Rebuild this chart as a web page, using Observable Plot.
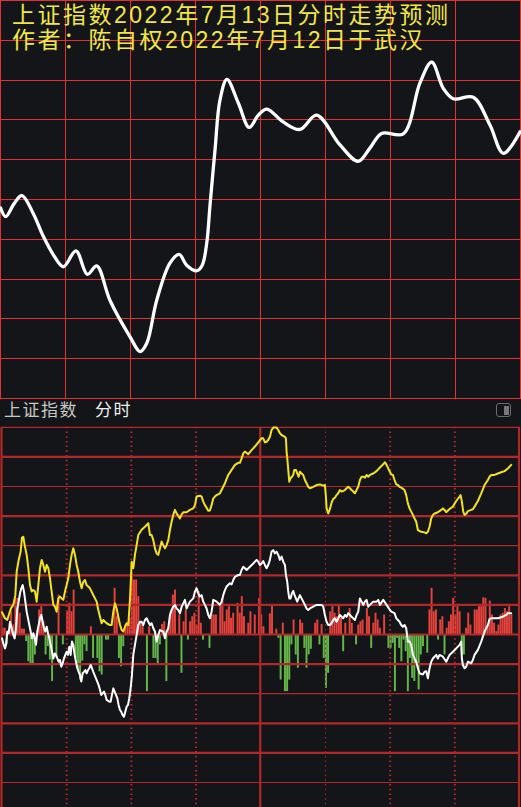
<!DOCTYPE html>
<html><head><meta charset="utf-8">
<script src="https://cdn.jsdelivr.net/npm/d3@7"></script>
<script src="https://cdn.jsdelivr.net/npm/@observablehq/plot@0.6"></script>
<style>
html,body{margin:0;padding:0;background:#141518;}
body{width:521px;height:807px;position:relative;overflow:hidden;}
#top,#bottom{position:absolute;left:0;}
#top{top:0}
#bottom{top:399px}
.title{position:absolute;left:12px;color:#f2e646;font-family:"Liberation Sans","Noto Sans CJK SC";font-size:23px;letter-spacing:2.5px;line-height:25px;white-space:nowrap}
.hdr{position:absolute;top:399px;font-family:"Noto Sans CJK SC";font-size:17px;line-height:20px;letter-spacing:1.5px;white-space:nowrap}
.icon{position:absolute;left:496px;top:403px;width:13px;height:12px;border:1.5px solid #6c6c6c;border-radius:3px}
.icon div{position:absolute;right:1.5px;top:1.5px;bottom:1.5px;width:5px;background:#777}
</style></head>
<body>
<div id="top"></div>
<div id="bottom"></div>
<div class="title" style="top:3px">上证指数2022年7月13日分时走势预测</div>
<div class="title" style="top:28px">作者：陈自权2022年7月12日于武汉</div>
<div class="hdr" style="left:4px;color:#c4c8c4">上证指数</div>
<div class="hdr" style="left:95px;color:#eceef2">分时</div>
<div class="icon"><div></div></div>
<script>
// ---------- top panel: forecast curve (minutes from open, grid units) ----------
const forecastMinute = [0,2.4,6.2,9.9,15.1,19.8,24.4,29.0,34.8,40.1,44.4,50.5,59.8,64.4,67.5,72.1,78.2,82.5,85.9,90.6,93.1,95.2,96.7,99.0,101.3,104.5,109.8,114.8,119.0,122.9,130.4,138.2,145.9,156.7,165.1,170.5,175.9,185.9,193.6,199.0,204.4,209.0,218.2,225.9,232.1,239.8];
const forecastValue  = [4.79,4.57,4.89,5.10,4.65,4.07,3.61,3.31,3.71,3.12,3.33,2.47,1.55,1.18,1.39,2.47,3.40,3.62,3.35,3.21,3.35,3.91,4.86,6.24,7.50,8.02,7.42,6.81,7.12,7.27,6.95,6.76,7.12,6.37,5.96,6.29,6.66,6.65,7.93,8.45,7.79,7.53,7.57,6.87,6.16,6.70];
const topGridMinutes = [0,30,60,90,120,150,180,210,240];
const topGridRows = [0,1,2,3,4,5,6,7,8,9,10];

// ---------- bottom panel: actual intraday ----------
const yellowMinute = [0,1.39,2.47,3.40,4.33,5.25,6.18,6.80,7.73,8.65,9.27,9.89,10.51,11.44,12.21,12.98,13.75,14.53,15.30,16.07,16.84,17.62,18.39,19.16,19.94,20.71,21.48,22.25,23.03,23.80,24.57,25.34,26.12,26.89,27.66,28.44,29.21,29.98,30.75,31.53,32.30,33.07,33.84,34.62,35.39,36.16,36.93,37.71,38.48,39.25,40.80,42.34,43.89,44.66,45.43,46.21,46.98,48.52,50.07,50.84,51.62,52.39,53.16,53.93,54.71,55.48,56.25,57.03,57.80,58.57,59.34,59.80,60.12,60.89,61.66,62.43,63.21,64.75,66.30,67.85,68.62,69.39,70.16,70.93,71.71,72.48,73.25,74.03,74.80,75.57,76.34,77.12,77.89,78.66,79.43,80.21,80.98,81.75,82.53,83.30,84.07,85.61,87.16,88.70,89.48,90.25,91.79,92.57,93.34,94.11,94.89,95.66,96.43,97.20,97.98,98.75,99.52,101.07,101.84,103.39,104.93,106.48,108.02,109.57,110.34,111.12,111.89,112.66,114.21,115.75,117.30,118.84,120.39,121.16,121.93,122.71,123.48,124.25,125.03,125.80,127.34,128.12,128.89,129.66,131.21,131.67,131.98,132.44,133.22,133.83,134.45,135.07,135.53,136.30,136.92,137.54,138.16,138.93,139.70,140.48,141.25,142.02,142.80,144.34,145.89,147.43,148.98,149.75,150.22,150.53,151.30,151.76,152.38,153.00,153.62,154.39,155.16,155.94,156.71,157.48,158.26,159.03,159.80,160.58,161.35,162.12,162.89,163.67,164.44,165.21,165.99,166.76,167.53,168.31,169.08,169.85,170.62,172.17,173.72,175.26,176.81,177.58,178.35,179.13,179.90,180.51,181.28,182.05,182.83,183.60,184.37,185.14,186.69,187.46,188.24,189.01,189.78,190.55,191.33,192.10,192.87,194.42,195.97,196.74,197.51,198.29,199.06,199.83,200.61,202.15,203.70,204.47,205.24,206.02,207.56,209.11,210.65,212.20,212.66,213.28,213.90,214.52,215.44,216.06,217.61,218.38,219.15,220.70,222.25,223.79,225.34,226.11,226.88,228.43,229.97,231.52,233.07,234.61,236.16];
const yellowValue  = [0.75,0.55,0.49,0.72,0.91,1.00,1.33,2.12,2.52,2.80,3.27,3.30,3.02,2.69,2.24,1.67,1.45,1.50,1.45,1.11,1.67,2.24,2.52,2.35,2.12,2.35,2.24,1.90,1.45,1.00,0.94,0.77,1.22,1.28,1.22,1.17,1.45,1.67,1.90,2.35,2.69,2.91,2.69,2.35,2.12,1.78,1.56,1.78,1.84,1.67,1.56,1.33,1.11,0.83,0.60,0.38,0.49,0.38,0.32,0.32,0.77,1.05,0.88,0.60,0.34,0.15,0.10,0.26,0.38,0.32,1.17,1.90,2.46,2.24,2.69,3.02,3.36,3.54,3.64,3.76,3.36,3.36,3.19,2.91,2.74,2.69,2.91,3.14,3.02,2.91,3.02,3.19,3.53,3.81,4.04,4.21,4.09,4.01,3.92,4.06,4.13,4.13,4.21,4.26,4.37,4.66,4.69,4.66,4.49,4.37,4.28,4.18,4.19,4.37,4.60,4.66,4.71,4.77,4.88,5.11,5.39,5.56,5.73,5.80,5.80,5.95,6.12,6.18,6.09,6.23,6.35,6.49,6.63,6.63,6.49,6.51,6.57,6.68,6.91,6.99,6.99,6.91,6.80,6.74,6.68,6.63,6.18,5.84,5.16,5.28,5.33,5.39,5.56,5.56,5.44,5.33,5.50,5.44,5.39,5.22,5.11,4.99,4.94,4.99,5.05,5.07,5.03,5.05,4.66,4.26,4.09,4.17,4.32,4.49,4.58,4.62,4.71,4.77,4.88,4.83,4.85,4.88,4.94,4.99,4.94,4.88,4.83,4.77,4.88,4.99,5.22,5.33,5.33,5.30,5.39,5.33,5.39,5.44,5.52,5.64,5.75,5.82,5.73,5.61,5.50,5.41,5.39,5.22,5.07,5.05,4.99,4.96,4.88,4.71,4.43,4.26,4.15,4.04,3.92,3.81,3.53,3.47,3.45,3.42,3.47,3.64,3.92,4.04,4.09,4.13,4.21,4.26,4.21,4.13,4.24,4.32,4.51,4.66,4.71,4.49,4.15,4.04,4.09,4.17,4.21,4.23,4.32,4.51,4.77,5.05,5.22,5.33,5.39,5.39,5.44,5.48,5.52,5.61,5.73];

const whiteMinute = [0,0.62,1.39,1.85,2.47,3.09,3.71,4.48,5.25,5.87,6.49,7.11,7.73,8.35,8.96,9.58,10.20,10.82,11.44,12.05,12.67,13.29,13.91,14.53,15.14,15.76,16.38,17.00,17.62,18.24,18.85,19.47,20.09,20.71,21.33,21.95,22.56,23.18,23.80,24.42,25.04,25.65,26.27,26.89,27.51,28.13,28.74,29.36,29.98,30.60,31.22,31.84,32.45,33.07,33.69,34.31,34.93,35.55,36.16,36.78,37.40,38.02,38.64,39.25,39.87,40.49,41.11,41.73,42.34,42.96,43.58,44.20,44.82,45.43,46.05,46.67,47.29,47.91,48.53,49.76,50.38,51.00,51.62,52.24,52.85,53.47,54.09,54.71,55.33,55.94,56.56,57.18,57.80,58.42,59.03,59.65,60.27,60.89,61.66,62.43,63.21,63.98,64.75,65.52,66.30,67.07,67.84,68.62,69.39,70.16,70.93,71.71,72.48,73.25,74.80,75.57,76.34,77.12,77.89,78.66,79.44,80.21,80.98,81.75,82.53,83.30,84.07,84.84,85.61,86.39,87.16,88.70,89.48,90.25,91.02,91.79,92.57,93.34,94.11,94.89,95.66,96.43,97.20,97.98,99.52,101.07,101.84,102.61,103.39,104.16,105.70,106.48,107.25,108.02,109.57,110.34,111.12,111.89,112.66,113.43,114.98,116.53,118.07,118.84,119.61,120.39,121.16,121.93,122.71,123.48,124.25,125.03,125.80,126.57,127.34,128.12,128.89,129.66,130.44,131.21,131.67,132.29,132.75,133.22,133.83,134.45,135.07,135.69,136.30,136.92,137.54,138.16,138.93,139.70,140.48,141.25,142.02,142.80,144.34,145.89,148.21,148.98,149.75,150.53,151.30,152.07,152.84,153.62,154.39,155.16,155.94,156.71,157.48,158.26,159.03,159.80,160.58,162.12,163.67,164.44,165.21,165.99,166.76,167.53,168.31,169.08,169.85,170.62,172.17,173.72,174.49,175.26,176.81,178.35,179.90,180.51,182.05,182.83,184.37,185.14,185.92,186.69,187.46,188.24,189.01,189.78,190.55,191.33,192.10,192.87,193.65,195.19,195.97,196.74,197.51,198.29,199.06,199.83,201.38,202.15,202.92,204.47,206.02,207.56,209.11,210.65,212.20,212.97,213.28,213.74,214.52,215.29,216.06,217.61,218.38,219.15,220.70,222.25,223.02,223.79,225.34,226.11,226.88,229.97,232.29,233.84,234.61,236.16];
const whiteValue  = [-0.13,-0.30,-0.47,-0.35,0.10,0.04,0.43,0.21,-0.02,-0.13,0.21,0.88,1.11,1.39,1.56,1.67,1.45,1.11,0.77,0.55,0.32,0.10,-0.13,0.04,-0.13,-0.35,0.10,0.32,0.55,0.66,0.43,0.21,0.10,0.26,0.04,-0.13,-0.35,-0.58,-0.81,-0.64,-0.69,-0.81,-0.92,-0.86,-1.09,-0.97,-0.81,-0.69,-0.58,-0.69,-0.41,-0.69,-0.24,-0.35,-0.69,-0.92,-1.14,-1.26,-1.37,-1.59,-1.31,-1.26,-1.20,-1.31,-1.20,-1.14,-1.03,-1.14,-1.26,-1.37,-1.48,-1.59,-1.71,-1.87,-2.04,-1.99,-1.93,-2.04,-2.21,-2.27,-2.27,-2.04,-1.82,-1.93,-2.04,-2.15,-2.38,-2.55,-2.61,-2.72,-2.78,-2.61,-2.44,-2.38,-2.15,-1.82,-1.37,-0.69,-0.35,-0.02,0.32,0.43,0.43,0.32,0.49,0.55,0.43,0.32,0.38,0.21,0.10,-0.24,-0.02,0.15,0.10,-0.13,0.10,0.21,0.66,0.83,0.94,1.00,0.88,0.83,0.72,0.94,1.05,1.17,0.88,1.00,1.11,1.22,1.45,1.56,1.39,1.28,1.33,1.11,1.00,0.88,0.66,0.55,0.77,1.17,1.11,1.00,1.11,1.33,1.50,1.62,1.73,1.69,1.84,1.95,2.01,2.01,2.18,2.29,2.24,2.18,2.29,2.40,2.52,2.46,2.35,2.40,2.48,2.35,2.24,2.35,2.52,2.80,2.85,2.74,2.80,2.69,2.52,2.63,2.46,2.35,2.01,1.78,1.45,1.22,1.22,1.39,1.47,1.33,1.22,1.11,1.22,1.33,1.22,1.11,1.00,0.88,0.83,0.88,0.94,1.00,1.00,0.94,0.66,0.43,0.32,0.32,0.38,0.49,0.55,0.43,0.55,0.66,0.60,0.55,0.66,0.60,0.72,0.60,0.49,0.66,0.77,1.22,1.11,1.00,1.11,1.17,0.94,1.00,1.11,1.11,1.17,1.00,1.17,1.00,0.83,0.77,0.72,0.55,0.43,0.32,0.26,0.32,0.21,-0.24,-0.24,-0.35,-0.69,-0.81,-0.92,-1.14,-1.31,-1.35,-1.26,-1.24,-1.48,-1.14,-0.92,-0.81,-0.69,-0.81,-0.69,-0.75,-0.92,-0.69,-0.58,-0.47,-0.35,-0.24,-0.81,-1.03,-1.14,-1.09,-0.92,-0.97,-0.86,-0.69,-0.52,-0.24,-0.07,0.10,0.32,0.52,0.55,0.55,0.60,0.66,0.72,0.72];

const barMinute = [0,1,2,4,5,6,7,8,9,10,11,12,13,14,15,17,18,19,20,21,22,23,25,26,28,30,31,32,33,34,35,36,37,38,39,41,42,44,45,46,48,49,52,53,54,55,56,57,58,59,60,61,62,63,64,65,67,68,70,71,72,73,74,75,76,77,78,79,80,82,83,84,85,86,87,88,89,90,91,92,93,96,97,98,99,101,102,103,104,105,106,107,109,110,111,112,114,115,117,119,120,121,124,125,127,128,129,130,131,132,133,134,135,136,137,138,139,140,141,142,143,145,146,147,148,149,150,151,152,153,154,155,156,157,158,159,161,162,164,165,166,167,169,170,171,172,173,174,175,177,179,180,181,182,183,184,185,186,187,188,189,190,191,192,193,194,195,197,198,199,200,201,202,203,204,205,206,207,208,209,210,211,212,213,214,215,216,217,219,220,221,222,223,224,225,226,227,228,229,230,231,232,233,234,235,236];
const barValue  = [0.21,0.21,-0.35,0.77,0.32,1.22,1.22,0.72,0.18,0.18,-0.24,-0.92,-1.01,-1.01,-0.69,0.83,0.94,0.43,-0.69,-0.41,-0.86,-1.59,-0.81,1.33,-0.35,0.77,1.05,0.77,1.50,-0.81,-1.20,-1.54,-0.90,-0.35,-0.58,0.26,-0.81,-0.81,-1.26,-1.37,-0.19,-0.19,1.56,0.60,-0.81,-1.09,-0.41,0.32,0.32,0.55,2.07,1.84,1.84,1.28,0.43,0.32,-1.93,0.26,-0.81,-0.81,-1.03,-0.35,0.34,0.43,-1.59,0.26,0.77,1.33,1.50,0.66,-1.31,0.43,0.83,-0.19,0.43,0.60,0.72,0.32,1.45,0.38,-0.19,-0.47,0.66,0.66,0.66,0.94,1.22,0.43,0.83,0.94,0.55,0.72,1.05,0.72,1.28,0.60,0.38,0.77,0.66,1.22,0.66,0.26,0.70,1.00,0.18,-0.13,-1.54,0.38,-1.93,-1.93,-1.54,-0.35,0.49,-0.69,-1.14,0.49,0.38,-0.47,-1.14,-0.69,-0.50,0.38,0.49,-0.35,0.34,-0.81,-1.82,-1.31,0.77,0.94,0.72,0.60,1.00,0.55,-0.58,0.38,0.88,0.38,-0.35,0.32,0.43,0.49,0.88,0.60,-0.47,0.38,0.72,0.49,0.21,0.66,-0.47,-0.47,-0.30,-1.93,-0.13,-0.47,-0.92,-0.19,-0.58,-1.93,-0.81,-1.48,-1.59,-1.03,-1.87,-0.69,-0.41,-0.63,0.83,1.56,0.77,0.83,-0.19,0.49,0.60,-0.69,0.21,0.43,0.66,1.22,0.66,0.94,0.77,-0.69,-0.69,0.21,0.72,0.32,0.83,0.83,0.94,0.94,1.24,1.22,0.32,1.13,0.66,0.38,0.10,0.32,0.66,0.72,0.88,0.77,0.94,0.66];

const bottomThickRows = [6,4,2,1,0,-1,-3,-4];
const bottomThinRows = [7,5,3,-2,-5];
const dottedMinutes = [30,60,90,180,210];
const fineDottedMinutes = [150];
const solidMinutes = [0,120,240];

const BG = "#141518";
const TOPGRID = "#e0332d";
const GRID = "#b0282a";

const forecast = forecastMinute.map((t, i) => ({t, v: forecastValue[i]}));
const yellow = yellowMinute.map((t, i) => ({t, v: yellowValue[i]}));
const white = whiteMinute.map((t, i) => ({t, v: whiteValue[i]}));
const bars = barMinute.map((t, i) => ({t, v: barValue[i]}));

const topPlot = Plot.plot({
  width: 521, height: 399,
  marginTop: 0, marginRight: 0, marginBottom: 0, marginLeft: 0,
  style: {background: BG},
  x: {domain: [0, 240], range: [0, 520], axis: null},
  y: {domain: [0, 10], range: [398, 0], axis: null},
  marks: [
    Plot.ruleX(topGridMinutes, {stroke: TOPGRID, strokeWidth: 1, shapeRendering: "crispEdges"}),
    Plot.ruleY(topGridRows, {stroke: TOPGRID, strokeWidth: 1, shapeRendering: "crispEdges"}),
    Plot.line(forecast, {x: "t", y: "v", stroke: "#ffffff", strokeWidth: 3.3, curve: "catmull-rom"})
  ]
});
document.getElementById("top").appendChild(topPlot);

const bottomPlot = Plot.plot({
  width: 521, height: 408,
  marginTop: 0, marginRight: 0, marginBottom: 0, marginLeft: 0,
  style: {background: BG},
  x: {domain: [0, 240], range: [1.5, 519], axis: null},
  y: {domain: [-5, 7], range: [383, 27.8], axis: null},
  marks: [
    Plot.rect(bars, {filter: d => d.v > 0, x1: "t", x2: d => d.t + 1, y1: 0, y2: "v", insetRight: 0.2, fill: "#e5423c"}),
    Plot.rect(bars, {filter: d => d.v < 0, x1: "t", x2: d => d.t + 1, y1: 0, y2: "v", insetRight: 0.2, fill: "#63b648"}),
    Plot.ruleY(bottomThinRows, {x1: 0, x2: 240, stroke: GRID, strokeWidth: 1.2}),
    Plot.ruleY(bottomThickRows, {x1: 0, x2: 240, stroke: GRID, strokeWidth: 2.2}),
    Plot.ruleX(dottedMinutes, {y1: 7, y2: -9, stroke: GRID, strokeWidth: 2, strokeDasharray: "1.5,3.2"}),
    Plot.ruleX(fineDottedMinutes, {y1: 7, y2: -9, stroke: GRID, strokeWidth: 1, strokeDasharray: "1.5,3.2"}),
    Plot.ruleX(solidMinutes, {y1: 7, y2: -9, stroke: GRID, strokeWidth: 2.2, dx: -0.5}),
    Plot.line(yellow, {x: "t", y: "v", stroke: "#f3e31f", strokeWidth: 2}),
    Plot.line(white, {x: "t", y: "v", stroke: "#ffffff", strokeWidth: 2})
  ]
});
document.getElementById("bottom").appendChild(bottomPlot);
</script>
</body></html>
